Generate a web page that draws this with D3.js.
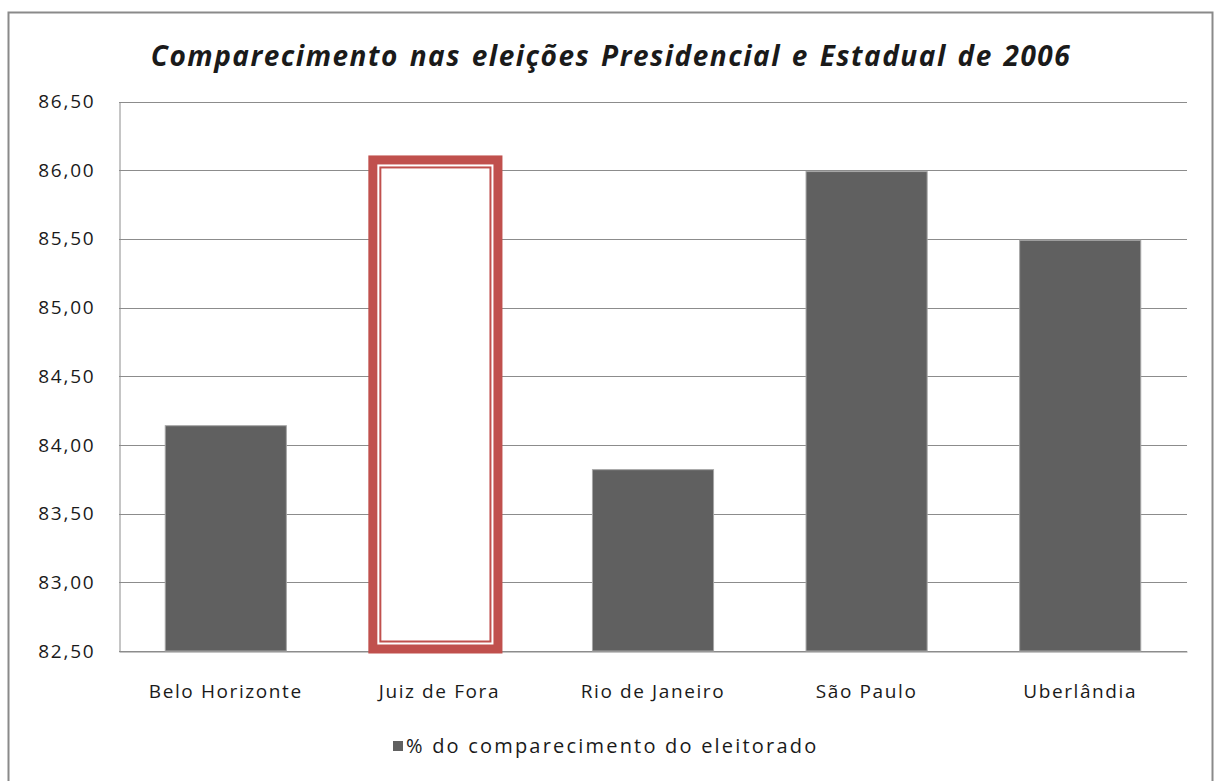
<!DOCTYPE html>
<html>
<head>
<meta charset="utf-8">
<script src="https://cdn.jsdelivr.net/npm/d3@7"></script>
<style>
  html, body { margin: 0; padding: 0; background: #fff; }
  svg { display: block; }
  text { font-family: "Open Sans", Lato, sans-serif; fill: #1a1a1a; }
</style>
</head>
<body>
<svg id="chart" width="1214" height="781"></svg>
<script>
// Turnout by city, 2006 presidential and state elections
const categories = ["Belo Horizonte", "Juiz de Fora", "Rio de Janeiro", "São Paulo", "Uberlândia"];
const turnout = [84.14, 86.06, 83.82, 85.99, 85.49];
const yTicks = [82.5, 83.0, 83.5, 84.0, 84.5, 85.0, 85.5, 86.0, 86.5];
const highlighted = ["Juiz de Fora"];
const title = "Comparecimento nas eleições Presidencial e Estadual de 2006";
const legendLabel = "% do comparecimento do eleitorado";

const svg = d3.select("#chart");
const plot = { left: 119, right: 1187, top: 101.5, bottom: 651 };

// outer chart frame (bottom edge runs past the viewport)
svg.append("rect")
  .attr("x", 8.5).attr("y", 12.5)
  .attr("width", 1204).attr("height", 820)
  .attr("fill", "#fff").attr("stroke", "#8a8a8a").attr("stroke-width", 2);

const x = d3.scaleBand().domain(categories).range([plot.left, plot.right]).padding(0);
const y = d3.scaleLinear().domain([82.5, 86.5]).range([plot.bottom, plot.top]);
const fmt = v => d3.format(".2f")(v).replace(".", ",");

// horizontal gridlines
svg.append("g")
  .selectAll("line").data(yTicks).join("line")
  .attr("x1", plot.left).attr("x2", plot.right)
  .attr("y1", d => Math.round(y(d)) + 0.5).attr("y2", d => Math.round(y(d)) + 0.5)
  .attr("stroke", "#8c8c8c").attr("stroke-width", 1);

// value axis
const yAxis = svg.append("g")
  .attr("transform", `translate(${plot.left + 0.5},0)`)
  .call(d3.axisLeft(y).tickValues(yTicks).tickFormat(fmt).tickSize(0).tickPadding(24));
yAxis.select(".domain").attr("stroke", "#8c8c8c");
yAxis.selectAll("text")
  .style("font-family", "'Open Sans', sans-serif")
  .style("font-size", "19px").style("letter-spacing", "1.8px").attr("fill", "#1a1a1a");

// category axis
const xAxis = svg.append("g")
  .attr("transform", `translate(0,${Math.round(plot.bottom) + 0.5})`)
  .call(d3.axisBottom(x).tickSize(0).tickPadding(33));
xAxis.select(".domain").attr("stroke", "#8c8c8c");
xAxis.selectAll("text")
  .style("font-size", "19px").style("letter-spacing", "1.6px").attr("fill", "#1a1a1a");

const barW = x.bandwidth() * 0.567;
const data = categories.map((c, i) => ({ c, v: turnout[i] }));

// regular bars
svg.append("g")
  .selectAll("rect").data(data.filter(d => !highlighted.includes(d.c))).join("rect")
  .attr("x", d => x(d.c) + (x.bandwidth() - barW) / 2)
  .attr("y", d => y(d.v))
  .attr("width", barW)
  .attr("height", d => y(82.5) - y(d.v))
  .attr("fill", "#606060")
  .attr("stroke", "#a6a6a6").attr("stroke-width", 1);

// highlighted bar: white fill, thick-thin red outline
const hl = svg.append("g");
data.filter(d => highlighted.includes(d.c)).forEach(d => {
  const x0 = x(d.c) + (x.bandwidth() - barW) / 2 - 4;
  const y0 = y(d.v);
  const y1 = y(82.5) - 4;
  hl.append("rect")
    .attr("x", x0).attr("y", y0).attr("width", barW).attr("height", y1 - y0)
    .attr("fill", "#fff");
  hl.append("rect")
    .attr("x", x0 - 2).attr("y", y0 - 2).attr("width", barW + 4).attr("height", y1 - y0 + 4)
    .attr("fill", "none").attr("stroke", "#c0504d").attr("stroke-width", 9);
  hl.append("rect")
    .attr("x", x0 + 5.5).attr("y", y0 + 5.5).attr("width", barW - 11).attr("height", y1 - y0 - 11)
    .attr("fill", "none").attr("stroke", "#c0504d").attr("stroke-width", 2);
});

// title
svg.append("text")
  .attr("x", 611).attr("y", 66)
  .attr("text-anchor", "middle")
  .style("font-size", "28px").style("font-weight", "bold").style("font-style", "italic")
  .style("letter-spacing", "1.5px").style("word-spacing", "2px")
  .attr("fill", "#000")
  .text(title);

// legend
const lg = svg.append("g").attr("transform", "translate(393,741)");
lg.append("rect").attr("width", 10).attr("height", 10).attr("fill", "#606060");
lg.append("text").attr("x", 13).attr("y", 12)
  .style("font-size", "20px").style("letter-spacing", "2.2px")
  .text(legendLabel);
</script>
</body>
</html>
